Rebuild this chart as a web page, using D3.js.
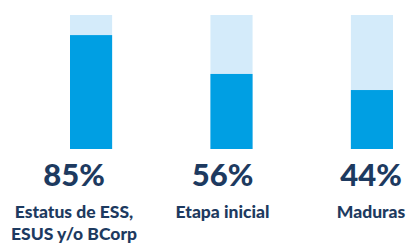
<!DOCTYPE html>
<html>
<head>
<meta charset="utf-8">
<script src="https://cdn.jsdelivr.net/npm/d3@7"></script>
<style>
  body { margin: 0; background: #fff; }
  text { font-family: Lato, "Noto Sans", sans-serif; font-weight: 900; fill: #1d3a60; }
</style>
</head>
<body>
<div id="chart"></div>
<script>
// data
var categories = ["Estatus de ESS,|ESUS y/o BCorp", "Etapa inicial", "Maduras"]
var values = [85, 56, 44]

var svgWidth = 411
var svgHeight = 244

var svg = d3.select("#chart")
  .append("svg")
  .attr("width", svgWidth)
  .attr("height", svgHeight)

// scales
var xScale = d3.scaleBand()
  .domain(categories)
  .range([70, 393])
  .paddingInner(0.7)
  .paddingOuter(0)

var yScale = d3.scaleLinear()
  .domain([0, 100])
  .range([149, 15])

// label columns sit a bit left of the bars
var labelScale = d3.scalePoint()
  .domain(categories)
  .range([74, 371])

var bars = svg.append("g")

// background (100%)
bars.selectAll("rect.bg")
  .data(categories)
  .enter()
  .append("rect")
  .attr("class", "bg")
  .attr("x", d => xScale(d))
  .attr("width", xScale.bandwidth())
  .attr("y", yScale(100))
  .attr("height", yScale(0) - yScale(100))
  .attr("fill", "#d4ebfa")

// value
bars.selectAll("rect.val")
  .data(values)
  .enter()
  .append("rect")
  .attr("class", "val")
  .attr("x", (d, i) => xScale(categories[i]))
  .attr("width", xScale.bandwidth())
  .attr("y", d => yScale(d))
  .attr("height", d => yScale(0) - yScale(d))
  .attr("fill", "#009fe3")

// percent labels
svg.append("g")
  .selectAll("text")
  .data(values)
  .enter()
  .append("text")
  .attr("x", (d, i) => labelScale(categories[i]))
  .attr("y", 186)
  .attr("text-anchor", "middle")
  .style("font-size", "31px")
  .text(d => d + "%")

// category labels
var catText = svg.append("g")
  .selectAll("text")
  .data(categories)
  .enter()
  .append("text")
  .attr("x", d => labelScale(d))
  .attr("y", 218)
  .attr("text-anchor", "middle")
  .style("font-size", "17.5px")

catText.selectAll("tspan")
  .data(d => d.split("|").map(t => ({ t: t, x: labelScale(d) })))
  .enter()
  .append("tspan")
  .attr("x", d => d.x)
  .attr("dy", (d, i) => i ? 22 : 0)
  .text(d => d.t)
</script>
</body>
</html>
